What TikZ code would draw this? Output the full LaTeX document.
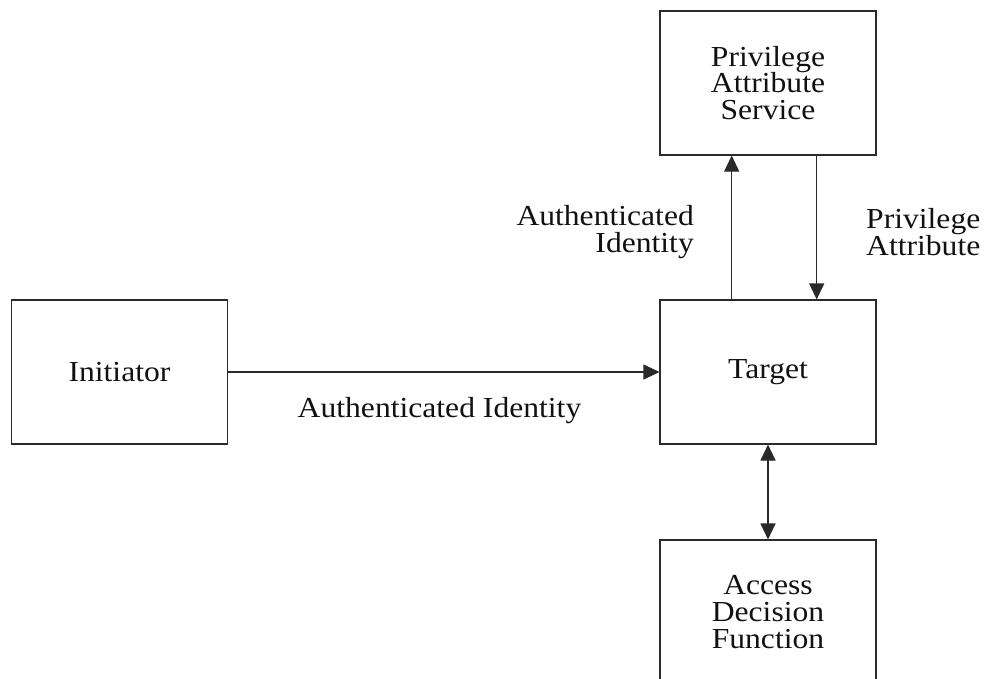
\documentclass[tikz,border=0pt]{standalone}
\usepackage{fontspec}
\setmainfont{Liberation Serif}[FakeStretch=1.09]
\usetikzlibrary{arrows.meta}
\newcommand\labelfont{\fontsize{29}{26.8}\selectfont}
\definecolor{ink}{HTML}{111111}
\definecolor{rule}{HTML}{2A2A2A}

\begin{document}
\begin{tikzpicture}[x=1pt,y=-1pt,
  box/.style={draw=rule, line width=1.1pt, minimum width=216pt, minimum height=144pt,
              inner sep=0pt, align=center, font=\labelfont, text=ink},
  lbl/.style={inner sep=0pt, font=\labelfont, text=ink},
  flow/.style={draw=rule, line width=1.1pt, -{Triangle[length=16pt,width=15pt]}},
  dflow/.style={draw=rule, line width=1.1pt, {Triangle[length=16pt,width=15pt]}-{Triangle[length=16pt,width=15pt]}},
]
\clip (0,0) rectangle (987,678);

% components
\node[box] (ini) at (119.5,372) {Initiator};
\node[box] (tgt) at (768,372) {Target};
\node[box] (pas) at (768,83) {Privilege\\Attribute\\Service};
\node[box] (adf) at (768,612) {Access\\Decision\\Function};

% flows
\draw[flow] (ini.east) -- (tgt.west);
\draw[flow] ([xshift=-36.3pt]tgt.north) -- ([xshift=-36.3pt]pas.south);
\draw[flow] ([xshift=48.7pt]pas.south) -- ([xshift=48.7pt]tgt.north);
\draw[dflow] (tgt.south) -- (adf.north);

% flow labels
\node[lbl, anchor=base] (lid) at (439.5,417) {Authenticated Identity};
\node[lbl, anchor=north east, align=right] (lauth) at (694,205.4) {Authenticated\\Identity};
\node[lbl, anchor=north west, align=left] (lpriv) at (866,208.4) {Privilege\\Attribute};
\end{tikzpicture}
\end{document}
